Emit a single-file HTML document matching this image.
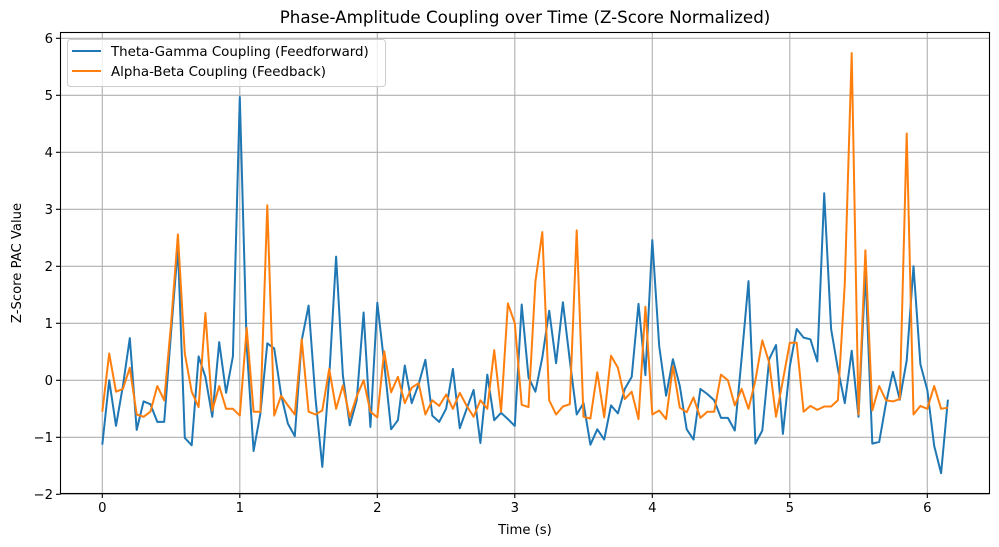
<!DOCTYPE html>
<html><head><meta charset="utf-8"><style>
html,body{margin:0;padding:0;background:#fff;}
svg{display:block;font-family:"DejaVu Sans","Liberation Sans",sans-serif;}
</style></head><body>
<svg id="s" width="999" height="547" viewBox="0 0 999 547" xmlns="http://www.w3.org/2000/svg">
<rect width="999" height="547" fill="#fff"/>
<g id="grid" stroke="#b0b0b0" stroke-width="1.1"></g>
<g id="ticks" font-size="13.2" fill="#000"></g>
<polyline id="b" fill="none" stroke="#1f77b4" stroke-width="2" stroke-linejoin="round"/>
<polyline id="o" fill="none" stroke="#ff7f0e" stroke-width="2" stroke-linejoin="round"/>
<rect x="60.5" y="32.5" width="929" height="461" fill="none" stroke="#000" stroke-width="1.1"/>
<g>
<rect x="67.5" y="39.5" width="318" height="47" rx="3" fill="#fff" fill-opacity="0.8" stroke="#ccc" stroke-width="1"/>
<line x1="72" y1="51" x2="101" y2="51" stroke="#1f77b4" stroke-width="2"/>
<line x1="72" y1="71" x2="101" y2="71" stroke="#ff7f0e" stroke-width="2"/>
<text x="111" y="56" font-size="13.4">Theta-Gamma Coupling (Feedforward)</text>
<text x="111" y="76" font-size="13.4">Alpha-Beta Coupling (Feedback)</text>
</g>
<text x="525" y="23" font-size="16.7" text-anchor="middle">Phase-Amplitude Coupling over Time (Z-Score Normalized)</text>
<text x="525" y="534" font-size="13.2" text-anchor="middle">Time (s)</text>
<text transform="translate(21,263) rotate(-90)" font-size="13.2" text-anchor="middle">Z-Score PAC Value</text>
</svg>
<script>
var B=[-1.13,0.0,-0.8,-0.1,0.74,-0.87,-0.37,-0.42,-0.73,-0.73,0.85,2.34,-1.01,-1.14,0.42,0.06,-0.64,0.67,-0.22,0.42,4.97,0.6,-1.24,-0.58,0.65,0.56,-0.25,-0.76,-0.98,0.7,1.31,-0.3,-1.52,0.05,2.17,0.08,-0.79,-0.35,1.19,-0.82,1.36,0.3,-0.86,-0.7,0.26,-0.4,-0.07,0.36,-0.62,-0.73,-0.5,0.2,-0.84,-0.5,-0.17,-1.1,0.1,-0.7,-0.57,-0.68,-0.8,1.33,0.05,-0.2,0.4,1.22,0.3,1.37,0.35,-0.6,-0.4,-1.13,-0.86,-1.04,-0.44,-0.58,-0.15,0.06,1.34,0.09,2.46,0.6,-0.27,0.37,-0.1,-0.86,-1.04,-0.15,-0.24,-0.35,-0.66,-0.66,-0.88,0.4,1.74,-1.11,-0.88,0.37,0.62,-0.94,0.24,0.9,0.75,0.72,0.33,3.28,0.9,0.2,-0.4,0.52,-0.64,1.9,-1.11,-1.08,-0.4,0.15,-0.34,0.35,2.0,0.28,-0.17,-1.15,-1.63,-0.34];
var O=[-0.55,0.47,-0.2,-0.15,0.22,-0.6,-0.64,-0.55,-0.1,-0.35,1.0,2.56,0.47,-0.2,-0.47,1.18,-0.53,-0.1,-0.5,-0.5,-0.62,0.92,-0.55,-0.55,3.07,-0.62,-0.27,-0.44,-0.6,0.72,-0.55,-0.6,-0.53,0.2,-0.5,-0.09,-0.65,-0.28,0.0,-0.55,-0.65,0.51,-0.21,0.06,-0.4,-0.13,-0.05,-0.6,-0.35,-0.45,-0.25,-0.5,-0.22,-0.45,-0.64,-0.35,-0.5,0.53,-0.55,1.35,1.0,-0.43,-0.47,1.73,2.6,-0.35,-0.6,-0.46,-0.42,2.63,-0.64,-0.67,0.14,-0.65,0.43,0.22,-0.33,-0.2,-0.68,1.29,-0.6,-0.53,-0.68,0.25,-0.48,-0.56,-0.3,-0.66,-0.55,-0.55,0.1,0.0,-0.44,-0.15,-0.5,0.0,0.7,0.31,-0.64,0.0,0.66,0.66,-0.55,-0.45,-0.52,-0.46,-0.46,-0.35,1.7,5.74,-0.6,2.28,-0.53,-0.1,-0.35,-0.37,-0.33,4.33,-0.6,-0.45,-0.5,-0.1,-0.5,-0.48];
function X(t){return 102.3+t*137.5;}function Y(v){return 380.3-v*57;}
function pts(a){return a.map(function(v,i){return X(i*0.05).toFixed(1)+","+Y(v).toFixed(1);}).join(" ");}
document.getElementById("b").setAttribute("points",pts(B));
document.getElementById("o").setAttribute("points",pts(O));
var ns="http://www.w3.org/2000/svg",g=document.getElementById("grid"),tk=document.getElementById("ticks");
function el(p,n,a,txt){var e=document.createElementNS(ns,n);for(var k in a)e.setAttribute(k,a[k]);if(txt!==undefined)e.textContent=txt;p.appendChild(e);}
for(var t=0;t<=6;t++){var x=X(t);el(g,"line",{x1:x,y1:32.5,x2:x,y2:493.5});el(tk,"line",{x1:x,y1:493.5,x2:x,y2:498,stroke:"#000","stroke-width":1.1});el(tk,"text",{x:x,y:512,"text-anchor":"middle"},String(t));}
for(var v=-2;v<=6;v++){var y=Y(v);el(g,"line",{x1:60.5,y1:y,x2:989.5,y2:y});el(tk,"line",{x1:56,y1:y,x2:60.5,y2:y,stroke:"#000","stroke-width":1.1});el(tk,"text",{x:53,y:y+4.5,"text-anchor":"end"},(v<0?"\u2212":"")+Math.abs(v));}
</script>
</body></html>
